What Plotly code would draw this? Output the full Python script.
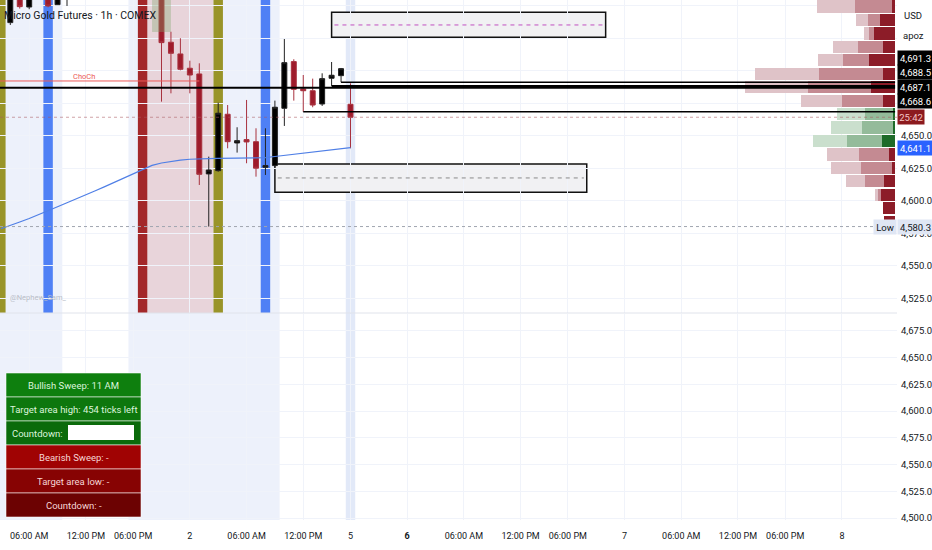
import plotly.graph_objects as go

FONT = "Roboto, Liberation Sans, sans-serif"
TXT = "#131722"

# hourly bars, 0 = current (forming) bar, session breaks removed
bar_idx = list(range(-36, 1))
opens = [4737.2, 4768.0, 4749.2, 4762.0, 4767.0, 4751.0, 4760.0, 4766.0, 4774.0, 4781.0,
         4786.0, 4783.0, 4778.0, 4782.0, 4775.0, 4768.0, 4763.0, 4722.1, 4713.1, 4702.1,
         4697.7, 4620.8, 4623.3, 4666.7, 4644.6, 4647.2, 4645.6, 4625.9, 4627.2, 4671.3,
         4707.2, 4686.2, 4684.8, 4674.6, 4694.4, 4696.4, 4674.4]
highs = [4772.0, 4771.0, 4765.0, 4770.0, 4770.0, 4766.0, 4769.0, 4778.0, 4785.0, 4790.0,
         4794.0, 4789.0, 4786.0, 4788.0, 4781.0, 4774.0, 4768.0, 4730.2, 4725.2, 4707.9,
         4705.9, 4634.1, 4675.6, 4673.8, 4656.7, 4677.7, 4655.9, 4655.9, 4677.2, 4724.6,
         4709.0, 4696.9, 4694.1, 4698.2, 4706.9, 4702.3, 4690.5]
lows = [4735.4, 4748.0, 4747.5, 4757.0, 4749.0, 4751.0, 4750.0, 4760.0, 4770.0, 4776.0,
        4779.0, 4774.0, 4771.0, 4772.0, 4763.0, 4758.0, 4676.4, 4682.8, 4700.5, 4682.8,
        4612.3, 4580.3, 4622.5, 4640.5, 4637.2, 4629.0, 4618.7, 4620.0, 4626.4, 4657.7,
        4677.2, 4668.6, 4672.1, 4673.1, 4688.5, 4691.3, 4640.5]
closes = [4768.0, 4749.5, 4762.0, 4767.0, 4750.0, 4760.0, 4765.0, 4774.0, 4781.0, 4786.0,
          4783.0, 4778.0, 4782.0, 4775.0, 4768.0, 4763.0, 4721.8, 4713.6, 4701.3, 4696.9,
          4620.5, 4623.8, 4667.5, 4645.6, 4646.4, 4645.4, 4625.2, 4627.2, 4672.1, 4706.4,
          4685.9, 4684.8, 4673.8, 4694.1, 4696.7, 4701.8, 4664.4]

ma_idx = list(range(-37, 1))
ma_vals = [4578.6, 4581.0, 4583.8, 4586.5, 4589.3, 4592.4, 4595.5, 4598.6, 4601.5, 4604.6,
           4607.8, 4611.0, 4614.3, 4617.6, 4620.8, 4623.9, 4627.4, 4629.2, 4630.4, 4631.4,
           4632.1, 4632.6, 4632.6, 4632.7, 4632.8, 4632.8, 4633.0, 4633.1, 4633.3, 4634.2,
           4635.0, 4635.8, 4636.6, 4637.5, 4638.3, 4639.1, 4640.0, 4641.1]

# volume profile rows (top to bottom)
profile_price = [4749.6, 4739.2, 4728.9, 4718.5, 4708.2, 4697.8, 4687.5, 4677.2, 4666.8,
                 4656.5, 4646.2, 4635.8, 4625.5, 4615.1, 4604.8, 4594.4, 4584.1]
profile_dark = [2.7, 15, 21, 12.3, 26, 12.3, 24, 12.3, 1.7, 2.3, 13.3, 5.7, 3.3, 10.7, 14.3, 11.7, 11]
profile_mid = [37.3, 12, 5, 25, 26.3, 64, 63, 40.4, 28, 31, 34.4, 30.6, 31, 19, 2.4, 0, 0]
profile_light = [37.7, 12, 5.3, 24.4, 25, 64, 63, 41, 28.6, 30.7, 34, 31.4, 30, 19.3, 3.3, 0, 0]
profile_buy = [0, 0, 0, 0, 0, 0, 0, 0, 1, 1, 1, 0, 0, 0, 0, 0, 0]

# levels
level_price = [4691.3, 4688.5, 4687.1, 4668.6]
level_from = [-1, -2, -40, -5]
choch_price = 4692.3
choch_bar = -16
last_price = 4664.4
low_price = 4580.3

zone_top = [4745.2, 4628.5]
zone_bottom = [4725.9, 4606.7]
zone_mid = [4735.4, 4617.7]
zone_from = [-2, -8]
zone_to = [27, 25]

session_from = [-38, -23]
session_to = [-31, -8]
band_bar = [-37, -32, -22, -14, -9]
band_kind = ["olive", "blue", "red", "olive", "blue"]
pink_from, pink_to = -21, -15

tick_bars = [-34, -28, -23, -17, -11, -5, 0, 6, 12, 18, 23, 29, 35, 41, 46, 52]
tick_text = ["06:00 AM", "12:00 PM", "06:00 PM", "2", "06:00 AM", "12:00 PM", "5", "<b>6</b>",
             "06:00 AM", "12:00 PM", "06:00 PM", "7", "06:00 AM", "12:00 PM", "06:00 PM", "8"]

table_text = ["Bullish Sweep: 11 AM", "Target area high: 454 ticks left", "Countdown:",
              "Bearish Sweep: -", "Target area low: -", "Countdown: -"]

top_ticks = [4525, 4550, 4575, 4600, 4625, 4650, 4675, 4700, 4725, 4750]
bot_ticks = [4500, 4525, 4550, 4575, 4600, 4625, 4650, 4675]

X_MIN, X_MAX = -37.09, 57.83
PW, PH = 897, 520


def px(x):
    return x / PW


def py(y):
    return 1 - y / PH


fig = go.Figure()

fig.add_trace(go.Scatter(x=ma_idx, y=ma_vals, mode="lines", line=dict(color="#4f7fe6", width=1.2),
                         hoverinfo="skip", showlegend=False))
fig.add_trace(go.Candlestick(
    x=bar_idx, open=opens, high=highs, low=lows, close=closes,
    increasing=dict(fillcolor="#000000", line=dict(color="#222222", width=1)),
    decreasing=dict(fillcolor="#9e1b2b", line=dict(color="#a8323f", width=1)),
    whiskerwidth=0, showlegend=False))

red_cols = ["#8c1c28", "#c48a92", "#dfc3c8"]
green_cols = ["#1e6b29", "#94bb9a", "#cadfcd"]
for k, vals in enumerate([profile_dark, profile_mid, profile_light]):
    cols = [green_cols[k] if b else red_cols[k] for b in profile_buy]
    fig.add_trace(go.Bar(y=profile_price, x=vals, orientation="h", xaxis="x2", yaxis="y",
                         width=9.4, marker=dict(color=cols, line=dict(width=0)),
                         hoverinfo="skip", showlegend=False))

fig.add_trace(go.Scatter(x=[], y=[], xaxis="x", yaxis="y2", showlegend=False))

shapes = []
for a, b in zip(session_from, session_to):
    shapes.append(dict(type="rect", xref="x", yref="paper", x0=a - 0.5, x1=b + 0.5, y0=0, y1=1,
                       fillcolor="#edf1fb", line=dict(width=0), layer="below"))
shapes.append(dict(type="rect", xref="x", yref="paper", x0=-0.5, x1=0.5, y0=0, y1=1,
                   fillcolor="#e2e9f8", line=dict(width=0), layer="below"))
shapes.append(dict(type="rect", xref="x", yref="y domain", x0=pink_from - 0.5, x1=pink_to + 0.5,
                   y0=0, y1=1, fillcolor="#e8d4da", line=dict(width=0), layer="below"))
band_col = {"olive": "#999428", "blue": "#4f80f5", "red": "#a3282a"}
for b, kind in zip(band_bar, band_kind):
    shapes.append(dict(type="rect", xref="x", yref="y domain", x0=b - 0.5, x1=b + 0.5, y0=0, y1=1,
                       fillcolor=band_col[kind], line=dict(width=0), layer="below"))
# pane separator
shapes.append(dict(type="line", xref="paper", yref="paper", x0=0, x1=1, y0=py(313), y1=py(313),
                   line=dict(color="#e0e3eb", width=1)))
# supply / demand zones
for t, bt, m, a, b, dc in zip(zone_top, zone_bottom, zone_mid, zone_from, zone_to, ["#c050c0", "#8a8a8a"]):
    shapes.append(dict(type="rect", xref="x", yref="y", x0=a, x1=b, y0=bt, y1=t,
                       fillcolor="#f1f1f3", line=dict(color="#111111", width=1.5), layer="below"))
    shapes.append(dict(type="line", xref="x", yref="y", x0=a + 0.3, x1=b - 0.3, y0=m, y1=m,
                       line=dict(color=dc, width=1, dash="4px,4px")))
# green-grey highlight box
shapes.append(dict(type="rect", xref="x", yref="y", x0=-21, x1=-19, y0=4730, y1=4760,
                   fillcolor="rgba(130,165,110,0.35)", line=dict(width=0)))
# ChoCh
shapes.append(dict(type="line", xref="x", yref="y", x0=X_MIN, x1=choch_bar, y0=choch_price,
                   y1=choch_price, line=dict(color="#ec5a58", width=1)))
# price / low lines
shapes.append(dict(type="line", xref="x", yref="y", x0=X_MIN, x1=X_MAX, y0=last_price, y1=last_price,
                   line=dict(color="rgba(170,90,95,0.55)", width=1, dash="dot")))
shapes.append(dict(type="line", xref="x", yref="y", x0=X_MIN, x1=55.5, y0=low_price, y1=low_price,
                   line=dict(color="#a0a5b0", width=1, dash="dot")))
for p, a, w in zip(level_price, level_from, [1.5, 2, 2, 1.5]):
    shapes.append(dict(type="line", xref="x", yref="y", x0=max(a, X_MIN), x1=X_MAX - 0.2, y0=p, y1=p,
                       line=dict(color="#000000", width=w)))

# table
tbl_x0, tbl_x1, tbl_y0, row_h = 6, 141, 373, 24
row_bg = ["#0e7f0e", "#0d770d", "#0b6b0b", "#a00303", "#870303", "#6c0202"]
annotations = []
for i, txt in enumerate(table_text):
    y0 = tbl_y0 + i * row_h
    shapes.append(dict(type="rect", xref="paper", yref="paper", x0=px(tbl_x0), x1=px(tbl_x1),
                       y0=py(y0 + row_h), y1=py(y0), fillcolor=row_bg[i],
                       line=dict(color="rgba(255,255,255,0.55)", width=1)))
    fc = "#dcf5dc" if i < 3 else "#f6d6d6"
    if txt == "Countdown:":
        annotations.append(dict(xref="paper", yref="paper", x=px(65), y=py(y0 + row_h / 2), text=txt,
                                showarrow=False, xanchor="right", yanchor="middle",
                                font=dict(family=FONT, size=9.5, color=fc)))
        shapes.append(dict(type="rect", xref="paper", yref="paper", x0=px(68), x1=px(134),
                           y0=py(y0 + 19), y1=py(y0 + 4), fillcolor="#ffffff", line=dict(width=0)))
    else:
        annotations.append(dict(xref="paper", yref="paper", x=px((tbl_x0 + tbl_x1) / 2), y=py(y0 + row_h / 2),
                                text=txt, showarrow=False, xanchor="center", yanchor="middle",
                                font=dict(family=FONT, size=9.5, color=fc)))


def label(text, x, y, yref="paper", **kw):
    d = dict(xref="paper", yref=yref, x=x, y=y, text=text, showarrow=False, yanchor="middle")
    d.update(kw)
    annotations.append(d)


# texts
label("Micro Gold Futures · 1h · COMEX", px(2), py(15), xanchor="left",
      font=dict(family=FONT, size=10.5, color=TXT))
label("@Nephew_Sam_", px(8), py(297), xanchor="left", font=dict(family=FONT, size=7.5, color="#b9bdc7"))
annotations.append(dict(xref="x", yref="y", x=-28.2, y=4695.8, text="ChoCh", showarrow=False,
                        xanchor="center", yanchor="middle", font=dict(family=FONT, size=7.5, color="#ec5a58")))
label("USD", px(913), py(15), xanchor="center", font=dict(family=FONT, size=9.5, color=TXT))
label("apoz", px(913), py(36), xanchor="center", font=dict(family=FONT, size=9.5, color=TXT))

black_labels = ["4,691.3", "4,688.5", "4,687.1", "4,668.6"]
for txt, yy in zip(black_labels, [58, 72.5, 87, 101.5]):
    label(txt, px(897), py(yy), xanchor="left", width=33, height=12, bgcolor="#000000", borderpad=1,
          font=dict(family=FONT, size=9.5, color="#ffffff"))
label("25:42", px(897), py(117.5), xanchor="left", width=24, height=12, bgcolor="#8c1a1e", borderpad=1,
      font=dict(family=FONT, size=9.5, color="#f3c6c6"))
label(f"{ma_vals[-1]:,.1f}", px(897), ma_vals[-1], yref="y", xanchor="left", width=33, height=12,
      bgcolor="#2962ff", borderpad=1, font=dict(family=FONT, size=9.5, color="#ffffff"))
label("Low", px(873), low_price, yref="y", xanchor="left", width=20, height=12, bgcolor="#dfe6f4",
      borderpad=1, font=dict(family=FONT, size=9.5, color=TXT))
label(f"{low_price:,.1f}", px(897), low_price, yref="y", xanchor="left", width=33, height=12,
      bgcolor="#dfe6f4", borderpad=1, font=dict(family=FONT, size=9.5, color=TXT))

top_text = [f"{v:,.1f}" if v <= 4650 else "" for v in top_ticks]
bot_text = [f"{v:,.1f}" for v in bot_ticks]

fig.update_layout(
    width=932, height=550,
    margin=dict(l=0, r=35, t=0, b=30),
    plot_bgcolor="#ffffff", paper_bgcolor="#ffffff",
    barmode="stack", boxgap=0.25, showlegend=False,
    font=dict(family=FONT, size=10, color=TXT),
    xaxis=dict(range=[X_MIN, X_MAX], tickvals=tick_bars, ticktext=tick_text, anchor="y2",
               showgrid=True, gridcolor="#f0f3fa", zeroline=False, showline=False, ticks="",
               rangeslider=dict(visible=False), ticklabelstandoff=9,
               tickfont=dict(family=FONT, size=9, color=TXT)),
    xaxis2=dict(overlaying="x", anchor="y", range=[895, -2], visible=False),
    yaxis=dict(domain=[py(313), 1], range=[4513.8, 4754.6], side="right", anchor="x",
               tickvals=top_ticks, ticktext=top_text, showgrid=True, gridcolor="#f0f3fa",
               zeroline=False, ticks="", ticklabelstandoff=3,
               tickfont=dict(family=FONT, size=9.5, color=TXT)),
    yaxis2=dict(domain=[0, py(314)], range=[4498.2, 4690.8], side="right", anchor="x",
                tickvals=bot_ticks, ticktext=bot_text, showgrid=True, gridcolor="#f0f3fa",
                zeroline=False, ticks="", ticklabelstandoff=3,
                tickfont=dict(family=FONT, size=9.5, color=TXT)),
    shapes=shapes, annotations=annotations,
)

fig.write_html("out.html", config={"displayModeBar": False},
               post_script="document.body.style.margin='0';")
